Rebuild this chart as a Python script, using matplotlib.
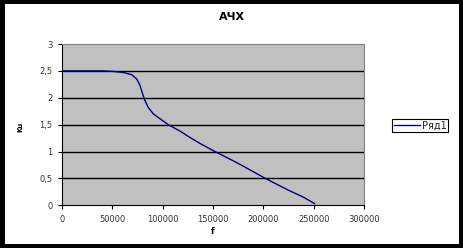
import numpy as np
import matplotlib.pyplot as plt

# values
f = [0, 20000, 40000, 51000, 60900, 69200, 74200, 77500, 80100, 82400,
     85700, 90700, 97300, 105600, 117200, 126400, 138000, 152000, 175000,
     203000, 225000, 240000, 251000]
k = [2.5, 2.5, 2.5, 2.49, 2.47, 2.43, 2.35, 2.23, 2.07, 1.95,
     1.82, 1.70, 1.61, 1.50, 1.38, 1.27, 1.14, 1.0, 0.78,
     0.49, 0.28, 0.15, 0.03]
xticks = [0, 50000, 100000, 150000, 200000, 250000, 300000]
yticks = [0, 0.5, 1, 1.5, 2, 2.5, 3]
ylabels = ['0', '0,5', '1', '1,5', '2', '2,5', '3']

fig = plt.figure(figsize=(4.64, 2.48), dpi=100)
fig.patch.set_facecolor('black')

# white chart area inside the black frame
bg = fig.add_axes([5 / 464, 4 / 248, 454 / 464, 240 / 248], zorder=-1)
bg.set_facecolor('white')
bg.set_xticks([])
bg.set_yticks([])
for s in bg.spines.values():
    s.set_visible(False)

ax = fig.add_axes([62 / 464, 1 - 205.3 / 248, 302 / 464, 161.3 / 248])
ax.set_facecolor('#C0C0C0')
ax.plot(f, k, color='#000080', lw=1, label='Ряд1', zorder=3)
ax.set_xlim(0, 300000)
ax.set_ylim(0, 3)
ax.set_xticks(xticks)
ax.set_xticklabels([str(t) for t in xticks])
ax.set_yticks(yticks)
ax.set_yticklabels(ylabels)
for y in yticks[1:-1]:
    ax.axhline(y, color='black', lw=1, zorder=1)
ax.tick_params(labelsize=6, colors='black', length=3, width=0.8, pad=4,
               labelcolor='#333333')
for s in ['top', 'right']:
    ax.spines[s].set_color('#808080')
for s in ['left', 'bottom']:
    ax.spines[s].set_color('black')

fig.text(232 / 464, 1 - 17 / 248, 'АЧХ', ha='center', va='center',
         fontsize=8, fontweight='bold')
fig.text(213 / 464, 1 - 232 / 248, 'f', ha='center', va='center', fontsize=6,
         fontweight='bold')
fig.text(20 / 464, 1 - 127 / 248, 'Ku', ha='center', va='center', fontsize=5,
         fontweight='bold', rotation=90)

leg = ax.legend(loc='center left', bbox_to_anchor=(392 / 464, 1 - 125.5 / 248),
                bbox_transform=fig.transFigure, fontsize=7, frameon=True,
                fancybox=False, edgecolor='black', framealpha=1,
                handlelength=2.7, borderpad=0.2, handletextpad=0.15,
                borderaxespad=0)
leg.get_frame().set_linewidth(0.8)
for t in leg.get_texts():
    t.set_color('#222222')

plt.savefig('out.png', dpi=100, facecolor=fig.get_facecolor())
